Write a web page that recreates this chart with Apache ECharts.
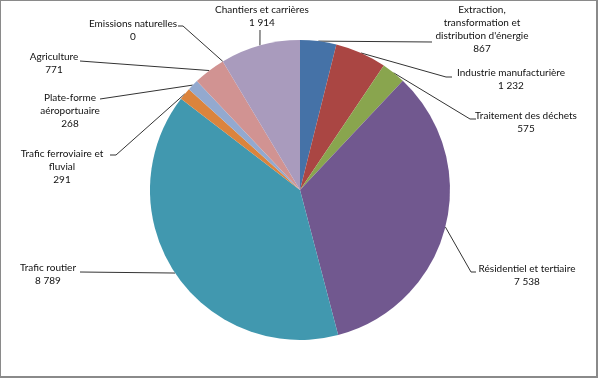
<!DOCTYPE html>
<html>
<head>
<meta charset="utf-8">
<script src="https://cdn.jsdelivr.net/npm/echarts@6/dist/echarts.min.js"></script>
<style>
html,body{margin:0;padding:0;background:#fff;}
#c{position:absolute;left:0;top:0;width:598px;height:378px;}
#frame{position:absolute;left:0;top:0;width:598px;height:378px;box-sizing:border-box;border-left:1px solid #8a8a8a;border-top:1px solid #8a8a8a;border-right:2px solid #8a8a8a;border-bottom:2px solid #8a8a8a;pointer-events:none;}
</style>
</head>
<body>
<div id="c"></div>
<div id="frame"></div>
<script>
// Data
const categories = [
  "Extraction,\ntransformation et\ndistribution d'énergie",
  "Industrie manufacturière",
  "Traitement des déchets",
  "Résidentiel et tertiaire",
  "Trafic routier",
  "Trafic ferroviaire et\nfluvial",
  "Plate-forme\naéroportuaire",
  "Agriculture",
  "Emissions naturelles",
  "Chantiers et carrières"
];
const values = [867, 1232, 575, 7538, 8789, 291, 268, 771, 0, 1914];

// Styles
const colors = ['#4572A7','#AA4643','#89A54E','#71588F','#4198AF','#DB843D','#93A9CF','#D19392','#B9CD96','#A99BBD'];
// label placement: [centerX, topY, lineEndX, lineEndY, elbowX]
const labelPos = [
  [482, 3, 432, 42, 432],
  [511, 66, 452, 77, 446],
  [526, 109, 476, 119, 470],
  [527, 262, 476, 272, 471],
  [48, 261, 80, 272, 80],
  [62, 147, 110, 155, 116],
  [70, 91, 100, 99, 100],
  [54, 50, 80, 61, 80],
  [133, 17, 178, 26, 183],
  [262, 3, 260, 30, 260]
];

function fmt(v){ return String(v).replace(/\B(?=(\d{3})+(?!\d))/g, ' '); }

const chart = echarts.init(document.getElementById('c'), null, {renderer:'canvas'});
chart.setOption({
  animation: false,
  color: colors,
  series: [{
    type: 'pie',
    center: [300, 190],
    radius: 150,
    startAngle: 90,
    clockwise: true,
    avoidLabelOverlap: false,
    data: categories.map((n,i)=>({name:n, value:values[i]})),
    itemStyle: {borderWidth: 0},
    label: {
      show: true,
      formatter: p => p.name + '\n' + fmt(p.value),
      fontFamily: 'Lato, "Liberation Sans Narrow", sans-serif',
      fontSize: 10,
      lineHeight: 13,
      color: '#111',
      align: 'center'
    },
    labelLine: {show: true, length: 10, length2: 10, lineStyle: {color: '#333', width: 1}},
    labelLayout: function(params){
      const i = params.dataIndex;
      const lp = labelPos[i];
      const start = params.labelLinePoints ? params.labelLinePoints[0] : null;
      const res = {x: lp[0], y: lp[1], align: 'center', verticalAlign: 'top'};
      if (start) {
        res.labelLinePoints = [start, [lp[4], lp[3]], [lp[2], lp[3]]];
      }
      return res;
    }
  }]
});
</script>
</body>
</html>
